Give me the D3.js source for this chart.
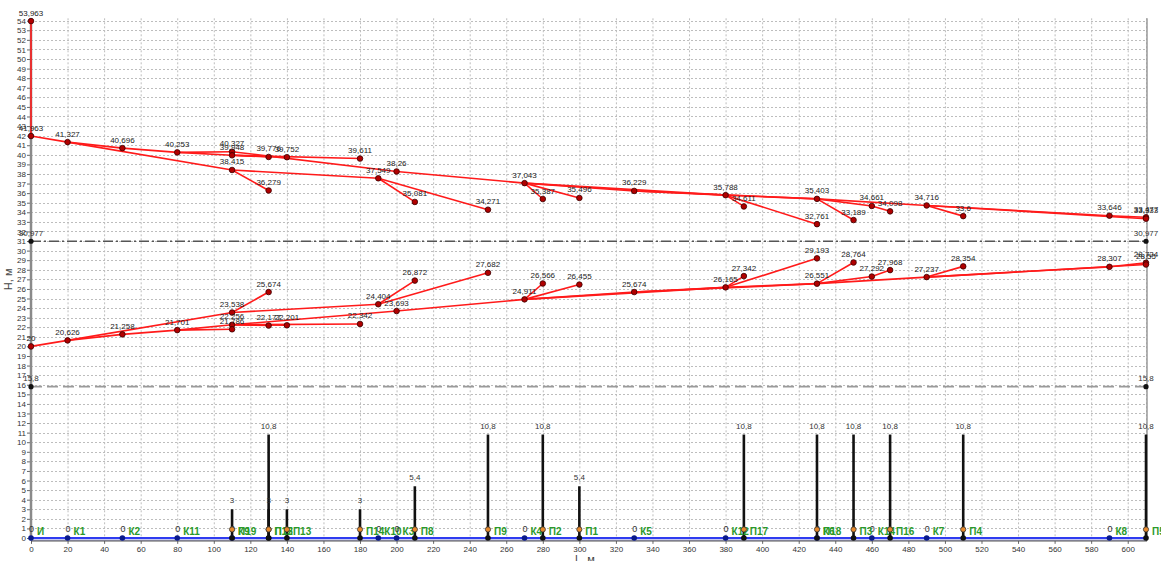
<!DOCTYPE html>
<html>
<head>
<meta charset="utf-8">
<script src="https://cdn.jsdelivr.net/npm/d3@7"></script>
<style>
  body { margin: 0; background: #fff; }
  svg { display: block; font-family: "Liberation Sans", Arial, sans-serif; }
</style>
</head>
<body>
<svg id="chart" width="1161" height="561"></svg>
<script>
// Supply pipe heads: [L, H]
const supplyPoints = [
  [0, 53.963], [0, 41.963], [20, 41.327], [50, 40.696], [80, 40.253],
  [110, 40.327], [110, 39.948], [110, 38.415], [130, 39.776], [140, 39.752],
  [180, 39.611], [130, 36.279], [190, 37.549], [200, 38.26], [210, 35.081],
  [250, 34.271], [270, 37.043], [280, 35.387], [300, 35.496], [330, 36.229],
  [380, 35.788], [390, 34.611], [430, 35.403], [430, 32.761], [450, 33.189],
  [460, 34.661], [470, 34.098], [490, 34.716], [510, 33.6], [590, 33.646],
  [610, 33.477], [610, 33.333]
];
// Pipe segments of the supply network (indices into supplyPoints)
const supplyLinks = [
  [0, 1], [1, 2], [2, 3], [3, 4], [4, 5], [4, 6], [2, 7], [6, 8], [6, 9], [6, 10],
  [7, 11], [7, 12], [5, 13], [12, 14], [12, 15], [13, 16], [16, 17], [16, 18],
  [16, 19], [19, 20], [16, 20], [20, 21], [20, 23], [20, 22], [19, 22], [22, 24],
  [22, 25], [25, 26], [22, 27], [27, 28], [27, 29], [29, 30], [27, 31]
];

// Return pipe heads: [L, H]
const returnPoints = [
  [0, 20], [20, 20.626], [50, 21.258], [80, 21.701], [110, 22.256],
  [110, 21.786], [110, 23.538], [130, 22.177], [140, 22.201], [180, 22.342],
  [130, 25.674], [190, 24.404], [200, 23.693], [210, 26.872], [250, 27.682],
  [270, 24.911], [280, 26.566], [300, 26.455], [330, 25.674], [380, 26.165],
  [390, 27.342], [430, 26.551], [430, 29.193], [450, 28.764], [460, 27.292],
  [470, 27.968], [490, 27.237], [510, 28.354], [590, 28.307], [610, 28.724],
  [610, 28.55]
];
const returnLinks = [
  [0, 1], [1, 2], [2, 3], [3, 4], [3, 5], [1, 6], [4, 7], [4, 8], [4, 9],
  [6, 10], [6, 11], [4, 12], [11, 13], [11, 14], [12, 15], [15, 16], [15, 17],
  [15, 18], [18, 19], [15, 19], [19, 20], [19, 22], [19, 21], [18, 21], [21, 23],
  [21, 24], [24, 25], [21, 26], [26, 27], [26, 28], [28, 29], [26, 30]
];

// Reference levels
const staticHead = 30.977;
const minHead = 15.8;
const lineEnds = [0, 610];

// Network nodes along the route
const junctionX = [0, 20, 50, 80, 110, 190, 200, 270, 330, 380, 430, 460, 490, 590];
const junctionNames = ["И", "К1", "К2", "К11", "К9", "К10", "К3", "К4", "К5", "К12", "К6", "К14", "К7", "К8"];
const consumerX = [110, 130, 130, 140, 180, 210, 250, 280, 300, 390, 430, 450, 470, 510, 610];
const consumerNames = ["П19", "П12", "П15", "П13", "П14", "П8", "П9", "П2", "П1", "П17", "П18", "П3", "П16", "П4", "П5"];
const consumerHeads = [3, 10.8, 3, 3, 3, 5.4, 10.8, 10.8, 5.4, 10.8, 10.8, 10.8, 10.8, 10.8, 10.8];

const xTicks = d3.range(0, 601, 20);
const yTicks = d3.range(0, 55, 1);

const fmt = v => String(v).replace(".", ",");

const svg = d3.select("#chart");
const x = d3.scaleLinear().domain([0, 610]).range([31, 1146]);
const y = d3.scaleLinear().domain([0, 54]).range([538, 20.7]);
const yTop = y(54.25), yBot = y(-0.3);

// background
svg.append("rect").attr("width", 1161).attr("height", 561).attr("fill", "#fff");

// grid
const grid = svg.append("g").attr("stroke", "#bdbdbd").attr("stroke-dasharray", "2,2").attr("stroke-width", 1);
grid.selectAll("line.v").data(xTicks.concat([610])).join("line")
  .attr("x1", d => x(d) + 0.5).attr("x2", d => x(d) + 0.5)
  .attr("y1", yTop).attr("y2", yBot);
grid.selectAll("line.h").data(yTicks).join("line")
  .attr("x1", x(0)).attr("x2", x(610))
  .attr("y1", d => Math.round(y(d)) + 0.5).attr("y2", d => Math.round(y(d)) + 0.5);

// axes
const yAxis = svg.append("g").attr("transform", `translate(${x(0) - 1},0)`)
  .call(d3.axisLeft(y).tickValues(yTicks).tickSize(3).tickFormat(d3.format("d")));
yAxis.select(".domain").remove();
yAxis.selectAll("line").attr("stroke", "#666");
yAxis.selectAll("text").attr("font-size", 8).attr("fill", "#333").attr("x", -4)
  .attr("font-family", "Liberation Sans, Arial, sans-serif");

const xAxis = svg.append("g").attr("transform", `translate(0,${yBot})`)
  .call(d3.axisBottom(x).tickValues(xTicks).tickSize(3).tickFormat(d3.format("d")));
xAxis.select(".domain").remove();
xAxis.selectAll("line").attr("stroke", "#666");
xAxis.selectAll("text").attr("font-size", 8).attr("fill", "#333").attr("y", 5)
  .attr("font-family", "Liberation Sans, Arial, sans-serif");

// frame lines
svg.append("line").attr("x1", x(0)).attr("x2", x(0)).attr("y1", yTop).attr("y2", yBot)
  .attr("stroke", "#8a8a8a").attr("stroke-width", 2.5);
svg.append("line").attr("x1", x(610) + 1).attr("x2", x(610) + 1).attr("y1", yTop).attr("y2", yBot)
  .attr("stroke", "#9a9a9a").attr("stroke-width", 1.5);
svg.append("line").attr("x1", x(0)).attr("x2", x(610) + 1).attr("y1", yBot).attr("y2", yBot)
  .attr("stroke", "#555").attr("stroke-width", 1.5);

// axis titles
svg.append("text").attr("transform", `translate(12,${y(27)}) rotate(-90)`)
  .attr("text-anchor", "middle").attr("font-size", 11).attr("fill", "#444").text("H, м");
svg.append("text").attr("x", x(303)).attr("y", 563)
  .attr("text-anchor", "middle").attr("font-size", 11).attr("fill", "#444").text("L, м");

// reference levels
svg.append("line").attr("x1", x(0)).attr("x2", x(610)).attr("y1", y(staticHead)).attr("y2", y(staticHead))
  .attr("stroke", "#555").attr("stroke-width", 1.3).attr("stroke-dasharray", "10,3,2,3");
svg.append("line").attr("x1", x(0)).attr("x2", x(610)).attr("y1", y(minHead)).attr("y2", y(minHead))
  .attr("stroke", "#9a9a9a").attr("stroke-width", 1.6).attr("stroke-dasharray", "11,5");
[staticHead, minHead].forEach(h => {
  lineEnds.forEach(l => {
    svg.append("circle").attr("cx", x(l)).attr("cy", y(h)).attr("r", 2.6).attr("fill", "#111");
    svg.append("text").attr("x", x(l)).attr("y", y(h) - 5.5).attr("text-anchor", "middle")
      .attr("font-size", 8).attr("fill", "#333").text(fmt(h));
  });
});

// pipe route at zero level
svg.append("rect").attr("x", x(0)).attr("y", y(0) - 1).attr("width", x(610) - x(0))
  .attr("height", yBot - y(0) + 0.5).attr("fill", "#c6c8f4");
svg.append("line").attr("x1", x(0)).attr("x2", x(610)).attr("y1", y(0)).attr("y2", y(0))
  .attr("stroke", "#2f3cf0").attr("stroke-width", 1.8);

// consumer head bars
const bars = svg.append("g");
consumerX.forEach((l, i) => {
  bars.append("line").attr("x1", x(l)).attr("x2", x(l)).attr("y1", y(0)).attr("y2", y(consumerHeads[i]))
    .attr("stroke", "#111").attr("stroke-width", 2.6);
  bars.append("text").attr("x", x(l)).attr("y", y(consumerHeads[i]) - 6).attr("text-anchor", "middle")
    .attr("font-size", 8).attr("fill", "#333").text(fmt(consumerHeads[i]));
});

// node markers and names
junctionX.forEach((l, i) => {
  svg.append("circle").attr("cx", x(l)).attr("cy", y(0)).attr("r", 2.8).attr("fill", "#0a1a8a");
  svg.append("text").attr("x", x(l) + 0.5).attr("y", y(1) + 4).attr("text-anchor", "middle")
    .attr("font-size", 9).attr("fill", "#333").text("0");
  svg.append("text").attr("x", x(l) + 6).attr("y", y(1) + 6.5)
    .attr("font-size", 10).attr("font-weight", "bold").attr("fill", "#2a9a2a").text(junctionNames[i]);
});
consumerX.forEach((l, i) => {
  svg.append("circle").attr("cx", x(l)).attr("cy", y(0)).attr("r", 2.8).attr("fill", "#111");
  svg.append("circle").attr("cx", x(l)).attr("cy", y(1) + 1).attr("r", 2.6)
    .attr("fill", "#e8892a").attr("stroke", "#333").attr("stroke-width", 0.8);
  svg.append("text").attr("x", x(l) + 6).attr("y", y(1) + 6.5)
    .attr("font-size", 10).attr("font-weight", "bold").attr("fill", "#2a9a2a").text(consumerNames[i]);
});

// piezometric lines
function drawNetwork(points, links) {
  const g = svg.append("g");
  g.selectAll("line").data(links).join("line")
    .attr("x1", d => x(points[d[0]][0])).attr("y1", d => y(points[d[0]][1]))
    .attr("x2", d => x(points[d[1]][0])).attr("y2", d => y(points[d[1]][1]))
    .attr("stroke", "#ff1a1a").attr("stroke-width", 1.6);
  g.selectAll("circle").data(points).join("circle")
    .attr("cx", d => x(d[0])).attr("cy", d => y(d[1])).attr("r", 2.8)
    .attr("fill", "#b00000").attr("stroke", "#3a0000").attr("stroke-width", 0.8);
  g.selectAll("text").data(points).join("text")
    .attr("x", d => x(d[0])).attr("y", d => y(d[1]) - 5.5).attr("text-anchor", "middle")
    .attr("font-size", 8).attr("fill", "#222").text(d => fmt(d[1]));
}
drawNetwork(supplyPoints, supplyLinks);
drawNetwork(returnPoints, returnLinks);
</script>
</body>
</html>
